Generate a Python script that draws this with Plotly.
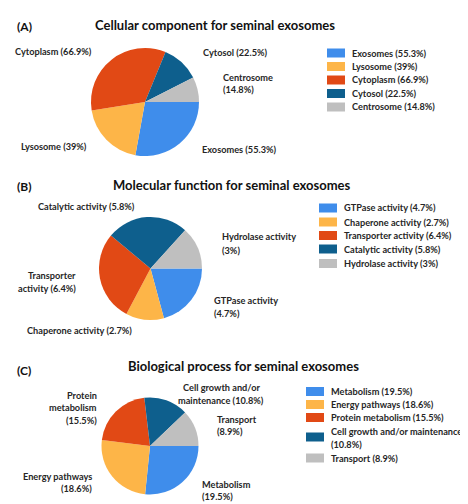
import plotly.graph_objects as go

W, H = 468, 504

# data
cc_labels = ["Exosomes", "Lysosome", "Cytoplasm", "Cytosol", "Centrosome"]
cc_values = [55.3, 39, 66.9, 22.5, 14.8]

mf_labels = ["GTPase activity", "Chaperone activity", "Transporter activity",
             "Catalytic activity", "Hydrolase activity"]
mf_values = [4.7, 2.7, 6.4, 5.8, 3]

bp_labels = ["Metabolism", "Energy pathways", "Protein metabolism",
             "Cell growth and/or maintenance", "Transport"]
bp_values = [19.5, 18.6, 15.5, 10.8, 8.9]

colors = ["#3F8DEB", "#FDB548", "#E14915", "#0E5F8D", "#BFBFBF"]

FONT = "Lato"
TXT = "#262626"
LBL = 9.2


def px(x, y):
    return x / W, 1 - y / H


def pie_domain(cx, cy, r):
    return dict(x=[(cx - r) / W, (cx + r) / W], y=[1 - (cy + r) / H, 1 - (cy - r) / H])


def fmt(v):
    return ("%g" % v) + "%"


fig = go.Figure()

panels = [
    (cc_labels, cc_values, (137, 94, 54)),
    (mf_labels, mf_values, (142.5, 260.5, 51.5)),
    (bp_labels, bp_values, (142, 438, 48.5)),
]
for labels, values, (cx, cy, r) in panels:
    fig.add_trace(go.Pie(
        labels=labels, values=values, sort=False, direction="clockwise",
        rotation=90, marker=dict(colors=colors, line=dict(width=0)),
        textinfo="none", hoverinfo="label+value", domain=pie_domain(cx, cy, r),
        showlegend=False,
    ))

annotations = []
shapes = []


def text(x, y, s, anchor="left", size=LBL, color=TXT):
    xx, yy = px(x, y)
    annotations.append(dict(
        x=xx, y=yy, xref="paper", yref="paper", xanchor=anchor, yanchor="middle",
        text="<b>%s</b>" % s, showarrow=False,
        font=dict(family=FONT, size=size, color=color), align=anchor,
    ))


# panel titles
text(7, 19, "(A)", size=12, color="#111")
text(207, 17, "Cellular component for seminal exosomes", anchor="center", size=13, color="#111")
text(7, 178, "(B)", size=12, color="#111")
text(223, 177, "Molecular function for seminal exosomes", anchor="center", size=13, color="#111")
text(7, 362, "(C)", size=12, color="#111")
text(235, 358, "Biological process for seminal exosomes", anchor="center", size=13, color="#111")

# slice labels, panel A
text(45, 43, "%s (%s)" % (cc_labels[2], fmt(cc_values[2])), anchor="center")
text(193, 44, "%s (%s)" % (cc_labels[3], fmt(cc_values[3])))
text(213, 70, cc_labels[4])
text(213, 82, "(%s)" % fmt(cc_values[4]))
text(11, 138, "%s (%s)" % (cc_labels[1], fmt(cc_values[1])))
text(192, 141, "%s (%s)" % (cc_labels[0], fmt(cc_values[0])))

# slice labels, panel B
text(28, 199, "%s (%s)" % (mf_labels[3], fmt(mf_values[3])))
text(212, 229, mf_labels[4])
text(212, 242, "(%s)" % fmt(mf_values[4]))
text(70, 267, "Transporter", anchor="right")
text(70, 280, "activity (%s)" % fmt(mf_values[2]), anchor="right")
text(204, 292, mf_labels[0])
text(204, 305, "(%s)" % fmt(mf_values[0]))
text(17, 322, "%s (%s)" % (mf_labels[1], fmt(mf_values[1])))

# slice labels, panel C
text(91, 387, "Protein", anchor="right")
text(91, 399, "metabolism", anchor="right")
text(91, 412, "(%s)" % fmt(bp_values[2]), anchor="right")
text(213, 379, "Cell growth and/or", anchor="center")
text(213, 392, "maintenance (%s)" % fmt(bp_values[3]), anchor="center")
text(207, 411, bp_labels[4])
text(207, 423, "(%s)" % fmt(bp_values[4]))
text(86, 468, bp_labels[1], anchor="right")
text(86, 480, "(%s)" % fmt(bp_values[1]), anchor="right")
text(192, 476, bp_labels[0])
text(192, 488, "(%s)" % fmt(bp_values[0]))


# legends drawn by hand, one swatch and label per slice
def legend(x0, rows, items):
    for i, ((lab, val), y) in enumerate(zip(items, rows)):
        if isinstance(y, tuple):
            yc, lines = y
        else:
            yc, lines = y, None
        x1, y1 = px(x0, yc - 4.5)
        x2, y2 = px(x0 + 18, yc + 4.5)
        shapes.append(dict(type="rect", xref="paper", yref="paper",
                           x0=x1, x1=x2, y0=y2, y1=y1, line=dict(width=0),
                           fillcolor=colors[i]))
        if lines:
            text(x0 + 23, lines[0], lab)
            text(x0 + 23, lines[1], "(%s)" % fmt(val))
        else:
            text(x0 + 23, yc, "%s (%s)" % (lab, fmt(val)))


legend(319, [45, 58.5, 72, 85.5, 99], zip(cc_labels, cc_values))
legend(311, [200, 214, 227.5, 241, 255.5], zip(mf_labels, mf_values))
legend(298, [383.5, 396.5, 409.5, (429, (423, 436.5)), 450], zip(bp_labels, bp_values))

fig.update_layout(
    width=W, height=H, margin=dict(l=0, r=0, t=0, b=0),
    paper_bgcolor="white", plot_bgcolor="white",
    annotations=annotations, shapes=shapes,
)

fig.write_html("out.html")
